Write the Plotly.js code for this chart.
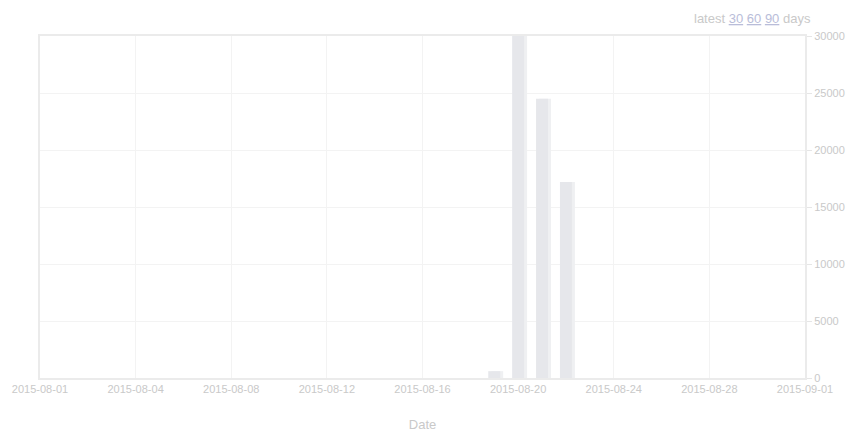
<!DOCTYPE html>
<html>
<head>
<meta charset="utf-8">
<script src="https://cdn.plot.ly/plotly-3.0.1.min.js"></script>
<style>
html,body{margin:0;padding:0;background:#fff;}
#chart{width:847px;height:432px;}
</style>
</head>
<body>
<div id="chart"></div>
<script>
var dates = ["2015-08-19", "2015-08-20", "2015-08-21", "2015-08-22"];
var counts = [600, 30000, 24500, 17200];
var tickDates = ["2015-07-31", "2015-08-04", "2015-08-08", "2015-08-12", "2015-08-16", "2015-08-20", "2015-08-24", "2015-08-28", "2015-09-01"];
var tickLabels = ["2015-08-01", "2015-08-04", "2015-08-08", "2015-08-12", "2015-08-16", "2015-08-20", "2015-08-24", "2015-08-28", "2015-09-01"];
var yTicks = [0, 5000, 10000, 15000, 20000, 25000, 30000];

var txt = "#c9c9c9";
var fontFam = "'Liberation Sans', Arial, sans-serif";
var HALF_DAY = 43200000;

var shadow = {
  type: "bar",
  x: dates,
  y: counts,
  width: HALF_DAY,
  offset: -HALF_DAY / 2 + HALF_DAY / 4,
  marker: {color: "#eff0f2", line: {width: 0}},
  hoverinfo: "none"
};
var trace = {
  type: "bar",
  x: dates,
  y: counts,
  width: HALF_DAY,
  offset: -HALF_DAY / 2,
  marker: {color: "#e6e7eb", line: {width: 0}},
  hoverinfo: "none"
};

var layout = {
  width: 847, height: 432,
  margin: {l: 40, r: 42, t: 36, b: 54},
  paper_bgcolor: "#ffffff",
  plot_bgcolor: "#ffffff",
  showlegend: false,
  barmode: "overlay",
  xaxis: {
    type: "date",
    range: ["2015-07-31", "2015-09-01"],
    tickmode: "array",
    tickvals: tickDates,
    ticktext: tickLabels,
    showgrid: true,
    gridcolor: "#f3f3f3",
    gridwidth: 1,
    zeroline: false,
    showline: true,
    linecolor: "#ebebeb",
    linewidth: 2,
    mirror: true,
    ticks: "",
    tickfont: {family: fontFam, size: 11, color: txt},
    title: {text: "Date", font: {family: fontFam, size: 13, color: txt}, standoff: 28}
  },
  yaxis: {
    side: "right",
    range: [0, 30000],
    tickmode: "array",
    tickvals: yTicks,
    ticktext: yTicks.map(String),
    showgrid: true,
    gridcolor: "#f3f3f3",
    gridwidth: 1,
    zeroline: false,
    showline: true,
    linecolor: "#ebebeb",
    linewidth: 2,
    mirror: true,
    ticks: "outside",
    ticklen: 5,
    tickcolor: "#e6e6e6",
    tickfont: {family: fontFam, size: 11, color: txt}
  },
  annotations: [{
    xref: "paper", yref: "paper",
    x: 1.0105, y: 1.0, yshift: 18,
    xanchor: "right", yanchor: "middle",
    showarrow: false,
    text: "latest <span style='color:#b9bdd9'><u>30</u></span> <span style='color:#b9bdd9'><u>60</u></span> <span style='color:#b9bdd9'><u>90</u></span> days",
    font: {family: fontFam, size: 13, color: txt}
  }]
};

Plotly.newPlot("chart", [shadow, trace], layout, {staticPlot: true, displayModeBar: false});
</script>
</body>
</html>
